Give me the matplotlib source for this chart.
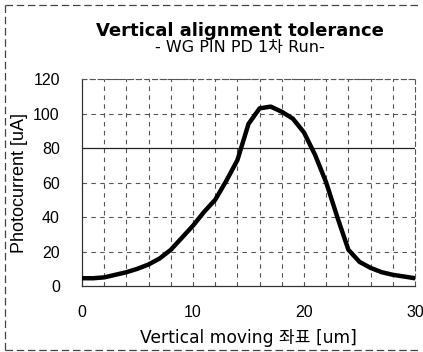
import matplotlib
matplotlib.use("Agg")
import matplotlib.pyplot as plt
from matplotlib.lines import Line2D

plt.rcParams['font.family'] = ['Liberation Sans', 'Noto Sans CJK KR', 'DejaVu Sans']

x_um = list(range(0, 31))
photocurrent = [4.5, 4.5, 5, 6.5, 8, 10, 12.5, 16, 21, 28, 35, 43, 50, 61, 73, 94,
                103, 104, 101, 97, 89, 76, 60, 40, 21, 14, 10.5, 8, 6.5, 5.5, 4.5]
x_ticks = [0, 10, 20, 30]
y_ticks = [0, 20, 40, 60, 80, 100, 120]

title = "Vertical alignment tolerance"
subtitle = "- WG PIN PD 1차 Run-"
xlabel = "Vertical moving 좌표 [um]"
ylabel = "Photocurrent [uA]"

fig = plt.figure(figsize=(4.23, 3.52), dpi=100)
ax = fig.add_axes([0.194, 0.1875, 0.787, 0.588])

# grid
for xv in range(2, 30, 2):
    ax.axvline(xv, color='#555555', lw=0.8, ls=(0, (4, 4)), zorder=1)
for yv in [20, 40, 60, 100, 120]:
    ax.axhline(yv, color='#555555', lw=0.8, ls=(0, (4, 4)), zorder=1)
ax.axhline(80, color='#222222', lw=0.9, zorder=1)

ax.plot(x_um, photocurrent, color='black', lw=3.2, solid_capstyle='round',
        solid_joinstyle='round', zorder=3)

ax.set_xlim(0, 30)
ax.set_ylim(0, 120)
ax.set_xticks(x_ticks)
ax.set_yticks(y_ticks)
ax.tick_params(length=0, labelsize=11.5)
ax.tick_params(axis='y', pad=16)
ax.tick_params(axis='x', pad=14)
for lab in ax.get_xticklabels() + ax.get_yticklabels():
    lab.set_family(['Liberation Sans'])

for s in ['top', 'right']:
    ax.spines[s].set_linestyle((0, (4, 3)))
    ax.spines[s].set_color('#555555')
    ax.spines[s].set_linewidth(0.8)
for s in ['left', 'bottom']:
    ax.spines[s].set_color('#333333')
    ax.spines[s].set_linewidth(0.9)

ax.set_xlabel(xlabel, fontsize=12.3, labelpad=6,
              family=['DejaVu Sans', 'Noto Sans CJK KR'])
ax.set_ylabel(ylabel, fontsize=13, labelpad=4, family=['Liberation Sans'])

fig.text(0.567, 0.912, title, ha='center', va='center', fontsize=13,
         fontweight='bold', family=['DejaVu Sans'])
fig.text(0.567, 0.865, subtitle, ha='center', va='center', fontsize=11.5,
         family=['DejaVu Sans', 'Noto Sans CJK KR'])

# outer dashed frame
frame_style = dict(color='#444444', lw=0.9, ls=(0, (6, 3)), transform=fig.transFigure)
fig.add_artist(Line2D([0.012, 0.012], [0.005, 0.985], **frame_style))
fig.add_artist(Line2D([0.012, 0.995], [0.985, 0.985], **frame_style))
fig.add_artist(Line2D([0.012, 0.995], [0.005, 0.005], **frame_style))

fig.savefig("out.png", dpi=100)
